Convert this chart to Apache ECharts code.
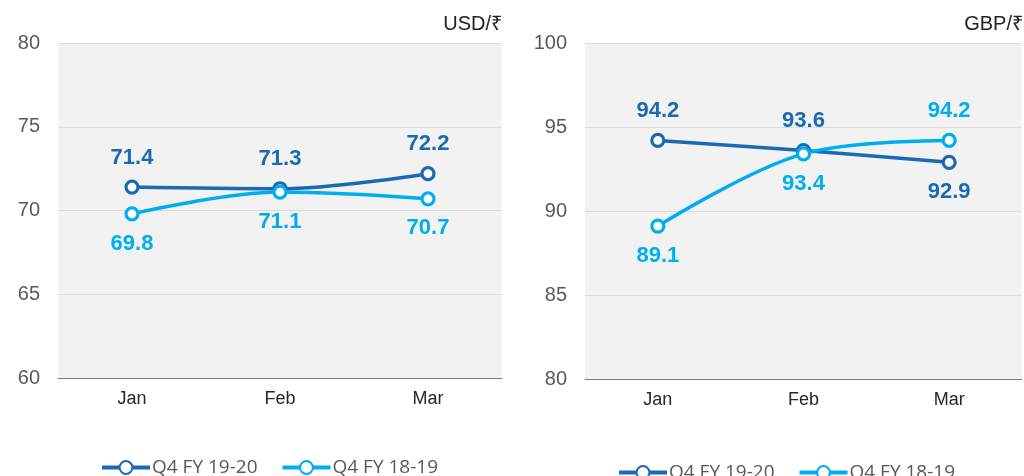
<!DOCTYPE html>
<html>
<head>
<meta charset="utf-8">
<script src="https://cdn.jsdelivr.net/npm/echarts@6/dist/echarts.min.js"></script>
<style>
  html, body { margin: 0; padding: 0; background: #fff; }
  #chart { width: 1024px; height: 476px; }
</style>
</head>
<body>
<div id="chart"></div>
<script>
  // months and series values
  var months = ['Jan', 'Feb', 'Mar'];
  var seriesNames = ['Q4 FY 19-20', 'Q4 FY 18-19'];
  var usdCur = [71.4, 71.3, 72.2];
  var usdPrev = [69.8, 71.1, 70.7];
  var gbpCur = [94.2, 93.6, 92.9];
  var gbpPrev = [89.1, 93.4, 94.2];
  var usdTicks = [60, 80, 5];
  var gbpTicks = [80, 100, 5];

  // where each data label sits
  var usdCurPos = ['top', 'top', 'top'];
  var usdPrevPos = ['bottom', 'bottom', 'bottom'];
  var gbpCurPos = ['top', 'top', 'bottom'];
  var gbpPrevPos = ['bottom', 'bottom', 'top'];

  var DARK = '#1B69B4';
  var LIGHT = '#00AEEF';
  var FONT = 'Liberation Sans';

  function points(vals, pos) {
    return vals.map(function (v, i) {
      return { value: v, label: { position: pos[i] } };
    });
  }

  function lineSeries(name, color, vals, pos, idx) {
    return {
      name: name,
      type: 'line',
      xAxisIndex: idx,
      yAxisIndex: idx,
      smooth: 0.35,
      symbol: 'circle',
      symbolSize: 12,
      lineStyle: { color: color, width: 3.5 },
      itemStyle: { color: '#fff', borderColor: color, borderWidth: 3.2 },
      label: {
        show: true,
        distance: 11,
        color: color,
        fontFamily: FONT,
        fontWeight: 'bold',
        fontSize: 22,
        formatter: function (p) { return p.value.toFixed(1); }
      },
      data: points(vals, pos)
    };
  }

  function xAxis(idx) {
    return {
      type: 'category',
      gridIndex: idx,
      data: months,
      axisTick: { show: false },
      axisLine: { lineStyle: { color: '#7f7f7f', width: 1 } },
      axisLabel: { color: '#262626', fontFamily: FONT, fontSize: 18, margin: 12 }
    };
  }

  function yAxis(idx, t) {
    return {
      type: 'value',
      gridIndex: idx,
      min: t[0],
      max: t[1],
      interval: t[2],
      axisLine: { show: false },
      axisTick: { show: false },
      splitLine: { lineStyle: { color: '#dcdcdc', width: 1 } },
      axisLabel: { color: '#595959', fontFamily: FONT, fontSize: 20, margin: 18 }
    };
  }

  function legend(left, top) {
    return {
      data: seriesNames,
      left: left,
      top: top,
      padding: 0,
      itemWidth: 48,
      itemHeight: 16,
      itemGap: 23,
      lineStyle: { width: 4 },
      textStyle: { color: '#595959', fontFamily: 'Open Sans', fontSize: 19, padding: [0, 0, 0, -3] }
    };
  }

  var chart = echarts.init(document.getElementById('chart'));
  chart.setOption({
    animation: false,
    title: [
      { text: 'USD/₹', right: 522, top: 14, padding: 0, textStyle: { color: '#222', fontFamily: FONT, fontSize: 20, fontWeight: 'normal' } },
      { text: 'GBP/₹', right: 1, top: 14, padding: 0, textStyle: { color: '#222', fontFamily: FONT, fontSize: 20, fontWeight: 'normal' } }
    ],
    grid: [
      { left: 58, top: 43, width: 444, height: 335, backgroundColor: '#F2F2F2', show: true, borderWidth: 0 },
      { left: 585, top: 43, width: 437, height: 336, backgroundColor: '#F2F2F2', show: true, borderWidth: 0 }
    ],
    legend: [legend(100, 458), legend(617, 463)],
    xAxis: [xAxis(0), xAxis(1)],
    yAxis: [yAxis(0, usdTicks), yAxis(1, gbpTicks)],
    series: [
      lineSeries(seriesNames[0], DARK, usdCur, usdCurPos, 0),
      lineSeries(seriesNames[1], LIGHT, usdPrev, usdPrevPos, 0),
      lineSeries(seriesNames[0], DARK, gbpCur, gbpCurPos, 1),
      lineSeries(seriesNames[1], LIGHT, gbpPrev, gbpPrevPos, 1)
    ]
  });
</script>
</body>
</html>
